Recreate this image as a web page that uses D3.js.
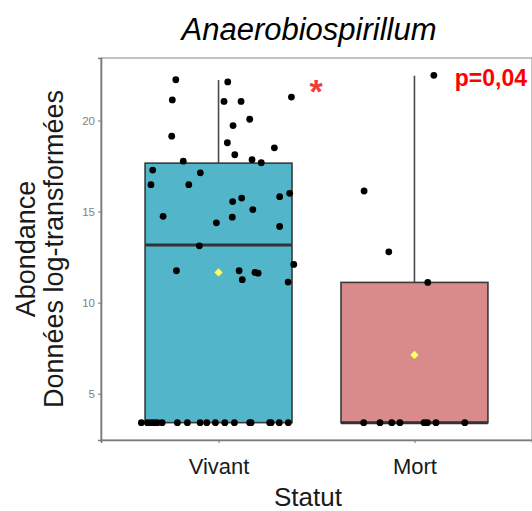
<!DOCTYPE html>
<html>
<head>
<meta charset="utf-8">
<script src="https://cdn.jsdelivr.net/npm/d3@7"></script>
<style>
  html, body { margin: 0; padding: 0; background: #fff; }
  svg { display: block; font-family: "Liberation Sans", Arial, sans-serif; }
</style>
</head>
<body>
<svg id="chart" width="532" height="511"></svg>
<script>
// ---- data ----
const title = "Anaerobiospirillum";
const categories = ["Vivant", "Mort"];
const boxColors = ["#52b5ca", "#d98a8a"];
// box statistics per category: [lowerWhisker, Q1, median, Q3, upperWhisker, mean]
const boxStats = [
  [3.41, 3.41, 13.16, 17.66, 22.22, 11.66],
  [3.41, 3.41, 3.41, 11.11, 22.46, 7.13]
];
const yTicks = [5, 10, 15, 20];
// jittered points: value and horizontal jitter (in category-step units)
const vivantValues = [22.24, 22.12, 21.13, 21.05, 21.05, 21.29, 20.07, 19.72, 19.14, 18.78,
  18.12, 18.50, 17.85, 17.68, 17.77, 17.28, 17.13, 16.48, 16.48, 16.00,
  15.82, 15.74, 15.55, 15.11, 14.74, 14.38, 14.69, 14.18, 13.12, 11.75,
  11.75, 11.26, 11.66, 11.62, 12.10, 11.13,
  3.41, 3.41, 3.41, 3.41, 3.41, 3.41, 3.41, 3.41, 3.41, 3.41,
  3.41, 3.41, 3.41, 3.41, 3.41, 3.41, 3.41, 3.41, 3.41];
const vivantJitter = [-0.218, 0.047, -0.236, 0.028, 0.115, 0.372, 0.159, 0.074, -0.239, 0.045,
  0.083, 0.285, 0.171, 0.218, -0.180, -0.336, -0.093, -0.345, -0.152, 0.363,
  0.312, 0.118, 0.072, 0.175, -0.283, -0.011, 0.070, 0.312, -0.098, -0.215,
  0.105, 0.121, 0.186, 0.202, 0.384, 0.355,
  -0.394, -0.363, -0.346, -0.329, -0.312, -0.288, -0.210, -0.159, -0.094, -0.060,
  -0.016, 0.032, 0.081, 0.159, 0.166, 0.261, 0.268, 0.310, 0.356];
const mortValues = [22.48, 16.13, 12.79, 11.11, 3.41, 3.41, 3.41, 3.41, 3.41, 3.41, 3.41, 3.41];
const mortJitter = [0.099, -0.257, -0.131, 0.068, -0.259, -0.176, -0.116, -0.074, 0.049, 0.066, 0.110, 0.257];
const xTitle = "Statut";
const yTitleLines = ["Abondance", "Données log-transformées"];
const pLabel = "p=0,04";
const sigMark = "*";

// ---- layout ----
const svg = d3.select("#chart");
const panel = { left: 101, right: 532, top: 58, bottom: 440 };

const x = d3.scalePoint().domain(categories).range([panel.left, panel.right]).padding(0.6);
const step = x.step();
const yMin = 3.41, yMax = 22.48, pad = (yMax - yMin) * 0.05;
const y = d3.scaleLinear().domain([yMin - pad, yMax + pad]).range([panel.bottom, panel.top]);

// panel border
svg.append("rect")
  .attr("x", panel.left).attr("y", panel.top)
  .attr("width", panel.right - panel.left).attr("height", panel.bottom - panel.top)
  .attr("fill", "#fff").attr("stroke", "#9a9a9a").attr("stroke-width", 1.2);

// axes
const yAxis = d3.axisLeft(y).tickValues(yTicks).tickSize(3).tickPadding(3);
const gy = svg.append("g").attr("transform", `translate(${panel.left},0)`).call(yAxis);
gy.select(".domain").attr("stroke", "#7a7a7a").attr("stroke-width", 1.6);
gy.selectAll(".tick line").attr("stroke", "#7a7a7a");
gy.selectAll(".tick text").attr("fill", "#7f7f7f").attr("font-size", 11.5)
  .attr("font-family", "Liberation Sans, Arial, sans-serif");

const xAxis = d3.axisBottom(x).tickSize(3).tickPadding(15);
const gx = svg.append("g").attr("transform", `translate(0,${panel.bottom})`).call(xAxis);
gx.select(".domain").attr("stroke", "#7a7a7a").attr("stroke-width", 1.6);
gx.selectAll(".tick line").attr("stroke", "#7a7a7a");
gx.selectAll(".tick text").attr("fill", "#1a1a1a").attr("font-size", 22)
  .attr("font-family", "Liberation Sans, Arial, sans-serif");

// boxes
const boxW = step * 0.75;
categories.forEach((c, i) => {
  const s = boxStats[i];
  const cx = x(c);
  const g = svg.append("g");
  g.append("line").attr("x1", cx).attr("x2", cx).attr("y1", y(s[3])).attr("y2", y(s[4]))
    .attr("stroke", "#4a4a4a").attr("stroke-width", 1.6);
  g.append("line").attr("x1", cx).attr("x2", cx).attr("y1", y(s[1])).attr("y2", y(s[0]))
    .attr("stroke", "#4a4a4a").attr("stroke-width", 1.6);
  g.append("rect").attr("x", cx - boxW / 2).attr("y", y(s[3]))
    .attr("width", boxW).attr("height", y(s[1]) - y(s[3]))
    .attr("fill", boxColors[i]).attr("stroke", "#3a3a3a").attr("stroke-width", 1.6);
  g.append("line").attr("x1", cx - boxW / 2).attr("x2", cx + boxW / 2)
    .attr("y1", y(s[2])).attr("y2", y(s[2]))
    .attr("stroke", "#333").attr("stroke-width", 3);
});

// points
function drawPoints(cat, vals, jit) {
  svg.append("g").selectAll("circle").data(vals).join("circle")
    .attr("cx", (d, i) => x(cat) + jit[i] * step)
    .attr("cy", d => y(d))
    .attr("r", 3.4)
    .attr("fill", "#000");
}
drawPoints("Vivant", vivantValues, vivantJitter);
drawPoints("Mort", mortValues, mortJitter);

// means (yellow diamonds: rotated squares)
const diamond = d3.symbol().type(d3.symbolSquare).size(34);
categories.forEach((c, i) => {
  svg.append("path").attr("d", diamond)
    .attr("transform", `translate(${x(c)},${y(boxStats[i][5])}) rotate(45)`)
    .attr("fill", "#ffff66");
});

// annotations
svg.append("text").attr("x", 316).attr("y", 103).attr("text-anchor", "middle")
  .attr("font-size", 34).attr("font-weight", "bold").attr("fill", "#f03c3c").text(sigMark);
svg.append("text").attr("x", 527).attr("y", 86).attr("text-anchor", "end")
  .attr("font-size", 23).attr("font-weight", "bold").attr("fill", "#ff0000").text(pLabel);

// title
svg.append("text").attr("x", 309).attr("y", 40).attr("text-anchor", "middle")
  .attr("font-size", 31).attr("font-style", "italic").attr("fill", "#000").text(title);

// x title
svg.append("text").attr("x", 308).attr("y", 506).attr("text-anchor", "middle")
  .attr("font-size", 26).attr("fill", "#1a1a1a").text(xTitle);

// y title
const yt = svg.append("text").attr("transform", `translate(35,${(panel.top + panel.bottom) / 2}) rotate(-90)`)
  .attr("text-anchor", "middle").attr("font-size", 27).attr("fill", "#1a1a1a");
yTitleLines.forEach((t, i) => {
  yt.append("tspan").attr("x", 0).attr("dy", i === 0 ? 0 : 28).text(t);
});
</script>
</body>
</html>
